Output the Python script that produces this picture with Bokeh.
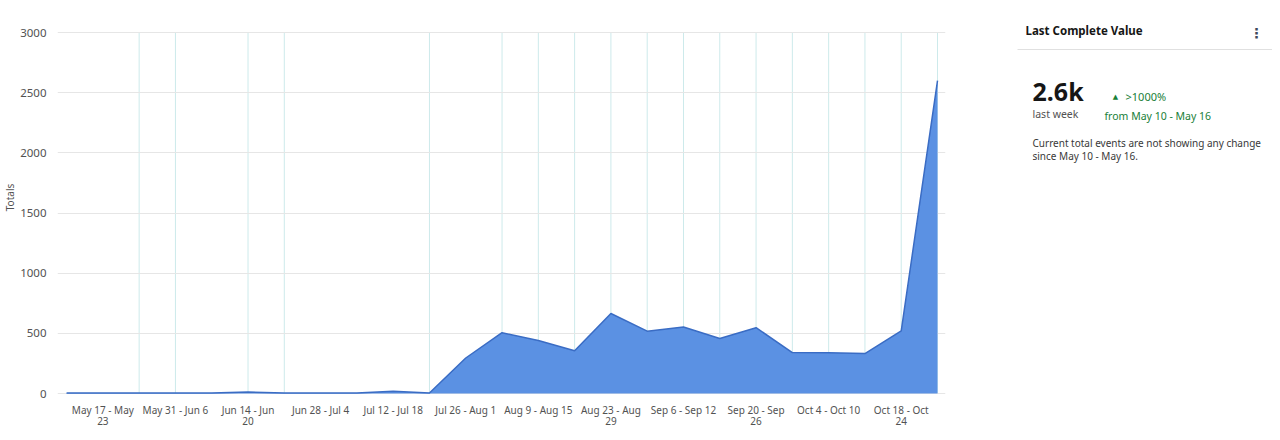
from bokeh.plotting import figure
from bokeh.layouts import row
from bokeh.models import FixedTicker, Range1d, ColumnDataSource
from bokeh.core.properties import value
from bokeh.embed import file_html
from bokeh.resources import INLINE

# ---- data ----
weeks = [
    "May 10 - May 16", "May 17 - May 23", "May 24 - May 30", "May 31 - Jun 6",
    "Jun 7 - Jun 13", "Jun 14 - Jun 20", "Jun 21 - Jun 27", "Jun 28 - Jul 4",
    "Jul 5 - Jul 11", "Jul 12 - Jul 18", "Jul 19 - Jul 25", "Jul 26 - Aug 1",
    "Aug 2 - Aug 8", "Aug 9 - Aug 15", "Aug 16 - Aug 22", "Aug 23 - Aug 29",
    "Aug 30 - Sep 5", "Sep 6 - Sep 12", "Sep 13 - Sep 19", "Sep 20 - Sep 26",
    "Sep 27 - Oct 3", "Oct 4 - Oct 10", "Oct 11 - Oct 17", "Oct 18 - Oct 24",
    "Oct 25 - Oct 31",
]
totals = [5, 5, 5, 5, 5, 12, 5, 5, 5, 18, 4, 295, 505, 440, 355, 665,
          518, 552, 457, 547, 340, 338, 332, 520, 2600]
tick_weeks = [1, 3, 5, 7, 9, 11, 13, 15, 17, 19, 21, 23]
tick_labels = [
    "May 17 - May\n23", "May 31 - Jun 6", "Jun 14 - Jun\n20", "Jun 28 - Jul 4",
    "Jul 12 - Jul 18", "Jul 26 - Aug 1", "Aug 9 - Aug 15", "Aug 23 - Aug\n29",
    "Sep 6 - Sep 12", "Sep 20 - Sep\n26", "Oct 4 - Oct 10", "Oct 18 - Oct\n24",
]
marked_weeks = [2, 3, 5, 6, 10, 12, 13, 14, 15, 16, 17, 18, 19, 20, 21, 22, 23, 24]
y_ticks = [0, 500, 1000, 1500, 2000, 2500, 3000]

FONT = "Noto Sans"

src = ColumnDataSource(dict(x=list(range(len(weeks))), y=totals, week=weeks))

# frame spans the full top of the figure; y range padded so 3000 sits at 32px
p = figure(width=1008, height=432, output_backend="svg", toolbar_location=None,
           x_range=Range1d(-0.25, 24.22), y_range=Range1d(-8.3, 3266),
           min_border_left=56, min_border_right=63, min_border_top=0,
           min_border_bottom=38)
p.title = None
p.outline_line_color = None
p.background_fill_color = "white"

# vertical week markers (limited to the value axis extent)
p.segment(x0=marked_weeks, y0=[y_ticks[0]] * len(marked_weeks),
          x1=marked_weeks, y1=[y_ticks[-1]] * len(marked_weeks),
          line_color="#cdeaeb", line_width=1, level="underlay")

p.varea(x="x", y1=0, y2="y", source=src, fill_color="#5b91e3")
p.line(x="x", y="y", source=src, line_color="#3a6cc4", line_width=1.5)

# axes
xa = p.xaxis[0]
xa.ticker = FixedTicker(ticks=tick_weeks)
xa.major_label_overrides = {t: l for t, l in zip(tick_weeks, tick_labels)}
ya = p.yaxis[0]
ya.ticker = FixedTicker(ticks=y_ticks)
ya.axis_label = "Totals"
for ax in (xa, ya):
    ax.axis_line_color = None
    ax.major_tick_line_color = None
    ax.minor_tick_line_color = None
    ax.major_tick_out = 0
    ax.major_tick_in = 0
    ax.major_label_text_font = FONT
    ax.major_label_text_color = "#525252"
xa.major_label_text_font_size = "10px"
xa.major_label_text_line_height = 0.85
ya.major_label_text_font_size = "11.5px"
xa.major_label_standoff = 8
ya.major_label_standoff = 11
ya.axis_label_standoff = 0
ya.axis_label_text_font = FONT
ya.axis_label_text_font_size = "10px"
ya.axis_label_text_font_style = "normal"
ya.axis_label_text_color = "#525252"

p.xgrid.visible = False
p.ygrid.ticker = FixedTicker(ticks=y_ticks)
p.ygrid.grid_line_color = "#e6e6e6"

# ---- side panel (frame aligned with chart frame: y in page pixels) ----
q = figure(width=264, height=432, output_backend="svg", toolbar_location=None,
           x_range=Range1d(0, 264), y_range=Range1d(394, 0),
           min_border=0)
q.title = None
q.axis.visible = False
q.grid.visible = False
q.outline_line_color = None

q.text(x=[17], y=[30], text=["Last Complete Value"], text_font=value(FONT),
       text_font_size="11.5px", text_font_style="bold", text_color="#161616",
       text_baseline="middle")
q.text(x=[248], y=[32], text=["\u22ee"], text_font=value("DejaVu Sans"),
       text_font_size="14px", text_font_style="bold", text_color="#3d4a5c",
       text_baseline="middle", text_align="center")
q.segment(x0=[9], y0=[49], x1=[264], y1=[49], line_color="#e0e0e0", line_width=1)
q.text(x=[24], y=[90], text=["2.6k"], text_font=value(FONT),
       text_font_size="25px", text_font_style="bold", text_color="#161616",
       text_baseline="middle")
q.text(x=[24], y=[113], text=["last week"], text_font=value(FONT),
       text_font_size="10.5px", text_color="#525252", text_baseline="middle")
q.text(x=[107], y=[96], text=["\u25b2"], text_font=value("DejaVu Sans"),
       text_font_size="7px", text_color="#198038", text_baseline="middle",
       text_align="center")
q.text(x=[117], y=[96], text=[">1000%"], text_font=value(FONT),
       text_font_size="11px", text_color="#198038", text_baseline="middle")
q.text(x=[96], y=[115], text=["from May 10 - May 16"], text_font=value(FONT),
       text_font_size="10.5px", text_color="#198038", text_baseline="middle")
q.text(x=[24, 24], y=[142, 155],
       text=["Current total events are not showing any change",
             "since May 10 - May 16."],
       text_font=value(FONT), text_font_size="10px", text_color="#393939",
       text_baseline="middle")

layout = row(p, q, spacing=0)
open("out.html", "w").write(file_html(layout, INLINE))
